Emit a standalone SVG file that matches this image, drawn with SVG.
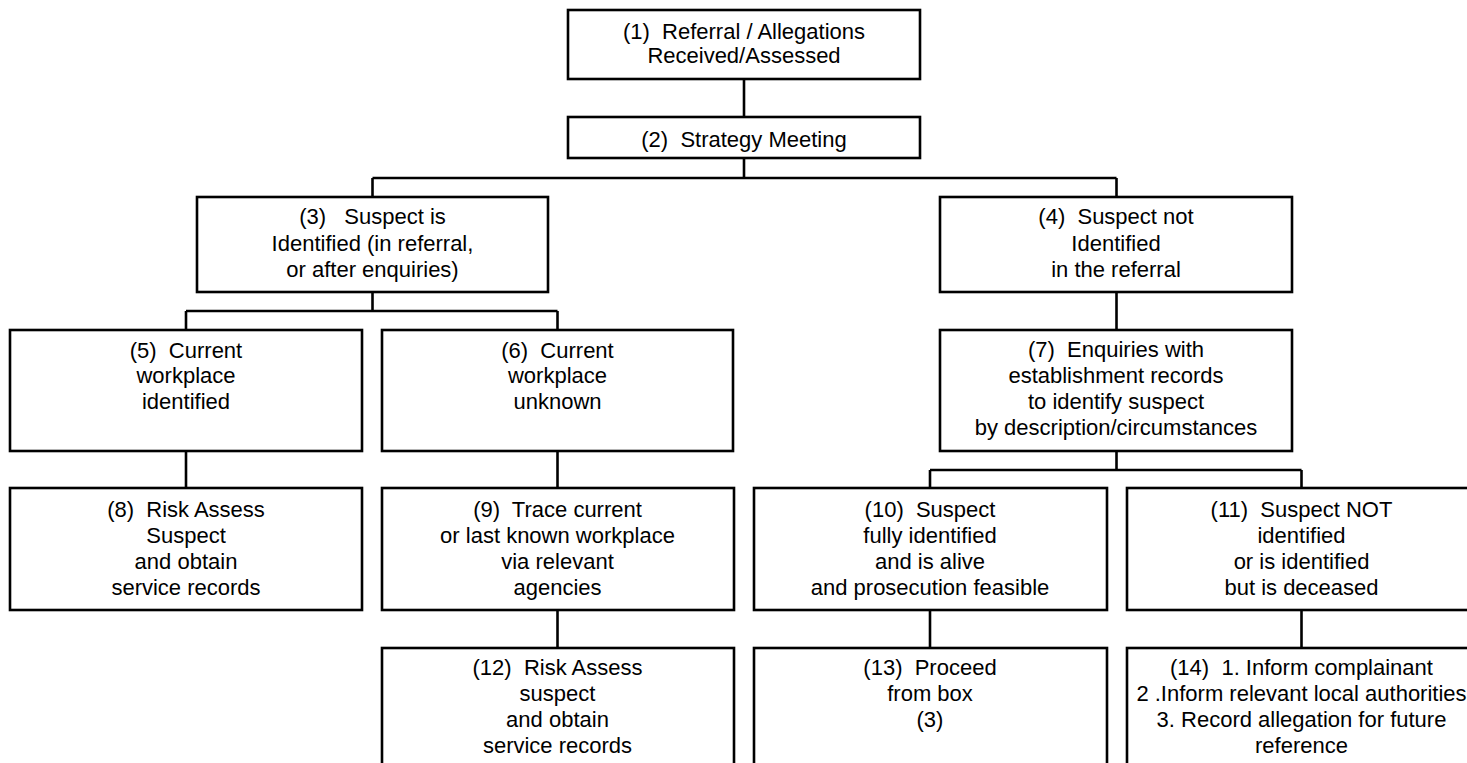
<svg xmlns="http://www.w3.org/2000/svg" width="1467" height="763" viewBox="0 0 1467 763">
<style>
rect.box{fill:#fff;stroke:#000;stroke-width:2.6}
#connectors line{stroke:#000;stroke-width:2.6}
text{font-family:"Liberation Sans",Arial,sans-serif;font-size:22px;fill:#000;text-anchor:middle;white-space:pre}
</style>
<rect width="1467" height="763" fill="#fff"/>
<g id="connectors">
<line x1="744" y1="79" x2="744" y2="117"/>
<line x1="744" y1="158" x2="744" y2="178"/>
<line x1="372.5" y1="178" x2="1116.5" y2="178"/>
<line x1="372.5" y1="178" x2="372.5" y2="197"/>
<line x1="1116.5" y1="178" x2="1116.5" y2="197"/>
<line x1="372.5" y1="292" x2="372.5" y2="311"/>
<line x1="186" y1="311" x2="557.5" y2="311"/>
<line x1="186" y1="311" x2="186" y2="330"/>
<line x1="557.5" y1="311" x2="557.5" y2="330"/>
<line x1="1116.5" y1="292" x2="1116.5" y2="330"/>
<line x1="186" y1="451" x2="186" y2="488"/>
<line x1="557.5" y1="451" x2="557.5" y2="488"/>
<line x1="1116.5" y1="451" x2="1116.5" y2="470"/>
<line x1="930" y1="470" x2="1301.5" y2="470"/>
<line x1="930" y1="470" x2="930" y2="488"/>
<line x1="1301.5" y1="470" x2="1301.5" y2="488"/>
<line x1="557.5" y1="610" x2="557.5" y2="648"/>
<line x1="930" y1="610" x2="930" y2="648"/>
<line x1="1301.5" y1="610" x2="1301.5" y2="648"/>
</g>
<g id="n1"><rect class="box" x="568" y="10" width="352" height="69"/>
<text x="744" y="39">(1)  Referral / Allegations</text><text x="744" y="63">Received/Assessed</text></g>
<g id="n2"><rect class="box" x="568" y="117" width="352" height="41"/>
<text x="744" y="147">(2)  Strategy Meeting</text></g>
<g id="n3"><rect class="box" x="197" y="197" width="351" height="95"/>
<text x="372.5" y="224">(3)   Suspect is</text><text x="372.5" y="251">Identified (in referral,</text><text x="372.5" y="277">or after enquiries)</text></g>
<g id="n4"><rect class="box" x="940" y="197" width="352" height="95"/>
<text x="1116" y="224">(4)  Suspect not</text><text x="1116" y="251">Identified</text><text x="1116" y="277">in the referral</text></g>
<g id="n5"><rect class="box" x="10" y="330" width="352" height="121"/>
<text x="186" y="358">(5)  Current</text><text x="186" y="383">workplace</text><text x="186" y="409">identified</text></g>
<g id="n6"><rect class="box" x="382" y="330" width="351" height="121"/>
<text x="557.5" y="358">(6)  Current</text><text x="557.5" y="383">workplace</text><text x="557.5" y="409">unknown</text></g>
<g id="n7"><rect class="box" x="940" y="330" width="352" height="121"/>
<text x="1116" y="357">(7)  Enquiries with</text><text x="1116" y="383">establishment records</text><text x="1116" y="409">to identify suspect</text><text x="1116" y="435">by description/circumstances</text></g>
<g id="n8"><rect class="box" x="10" y="488" width="352" height="122"/>
<text x="186" y="517">(8)  Risk Assess</text><text x="186" y="543">Suspect</text><text x="186" y="569">and obtain</text><text x="186" y="595">service records</text></g>
<g id="n9"><rect class="box" x="382" y="488" width="352" height="122"/>
<text x="557.5" y="517">(9)  Trace current</text><text x="557.5" y="543">or last known workplace</text><text x="557.5" y="569">via relevant</text><text x="557.5" y="595">agencies</text></g>
<g id="n10"><rect class="box" x="754" y="488" width="353" height="122"/>
<text x="930" y="517">(10)  Suspect</text><text x="930" y="543">fully identified</text><text x="930" y="569">and is alive</text><text x="930" y="595">and prosecution feasible</text></g>
<g id="n11"><rect class="box" x="1127" y="488" width="350" height="122"/>
<text x="1301.5" y="517">(11)  Suspect NOT</text><text x="1301.5" y="543">identified</text><text x="1301.5" y="569">or is identified</text><text x="1301.5" y="595">but is deceased</text></g>
<g id="n12"><rect class="box" x="382" y="648" width="352" height="140"/>
<text x="557.5" y="675">(12)  Risk Assess</text><text x="557.5" y="701">suspect</text><text x="557.5" y="727">and obtain</text><text x="557.5" y="753">service records</text></g>
<g id="n13"><rect class="box" x="754" y="648" width="353" height="140"/>
<text x="930" y="675">(13)  Proceed</text><text x="930" y="701">from box</text><text x="930" y="727">(3)</text></g>
<g id="n14"><rect class="box" x="1127" y="648" width="350" height="140"/>
<text x="1301.5" y="675">(14)  1. Inform complainant</text><text x="1301.5" y="701">2 .Inform relevant local authorities</text><text x="1301.5" y="727">3. Record allegation for future</text><text x="1301.5" y="753">reference</text></g>
</svg>
